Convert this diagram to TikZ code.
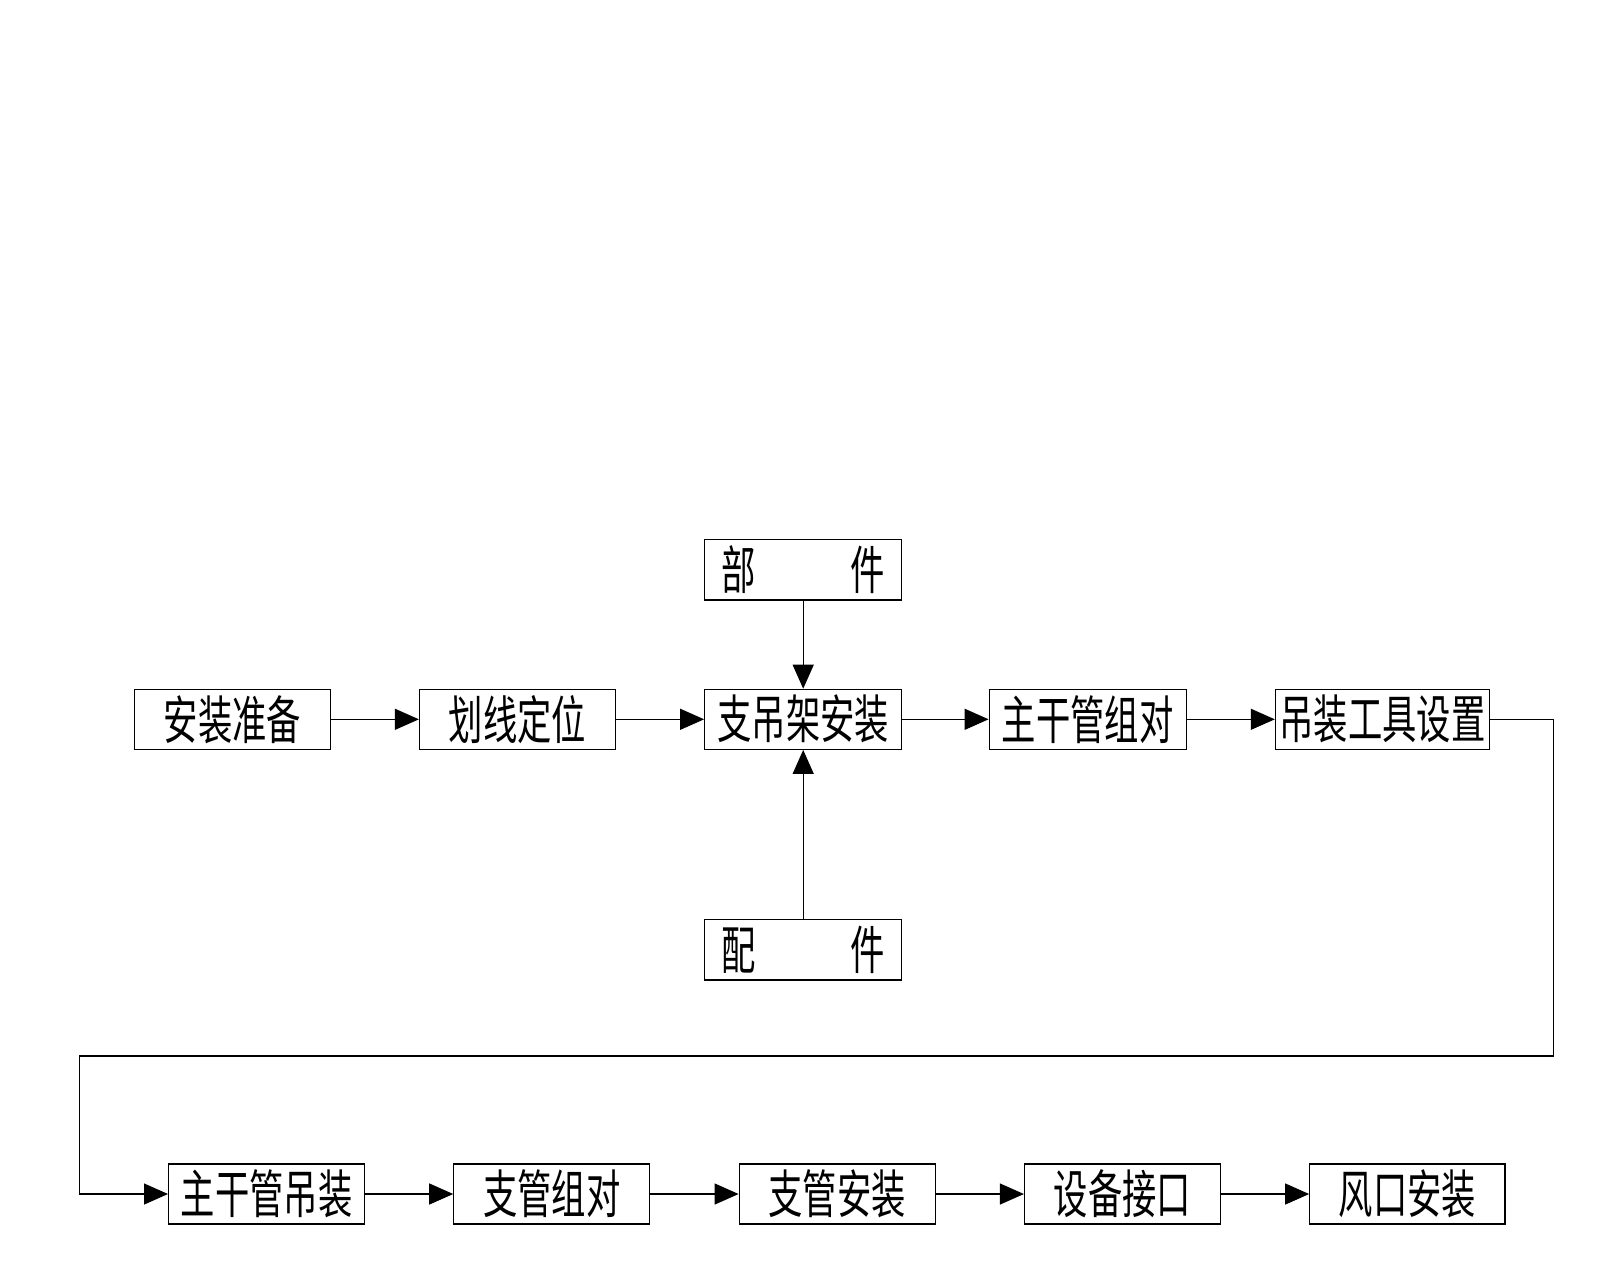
\documentclass[tikz,border=0pt]{standalone}
\usepackage{fontspec}
\newfontfamily\cjkfont[FakeStretch=0.66]{Noto Sans CJK SC}
\usetikzlibrary{arrows.meta}
\tikzset{
  box/.style={draw, line width=1.2pt, rectangle, inner sep=0pt, minimum width=196pt, minimum height=60pt,
    font=\cjkfont\fontsize{52}{52}\selectfont},
  flow/.style={draw, line width=1.2pt, -{Triangle[length=24pt,width=21pt]}},
  link/.style={draw, line width=1.2pt}
}
\begin{document}
\begin{tikzpicture}[x=1pt,y=-1pt]
\useasboundingbox (0,0) rectangle (1600,1280);
% top row
\node[box] (a1) at (232.4,719.3) {安装准备};
\node[box] (a2) at (517.5,719.3) {划线定位};
\node[box, minimum width=197pt] (a3) at (803.2,719.3) {支吊架安装};
\node[box, minimum width=197pt] (a4) at (1087.7,719.3) {主干管组对};
\node[box, minimum width=214pt] (a5) at (1382.4,719.3) {吊装工具设置};
% side inputs
\node[box, minimum width=197pt, minimum height=60.7pt] (p1) at (803.2,569.7) {部\hspace{95pt}件};
\node[box, minimum width=197pt, minimum height=60.7pt] (p2) at (803.2,949.7) {配\hspace{95pt}件};
% bottom row
\node[box] (b1) at (266.6,1194) {主干管吊装};
\node[box] (b2) at (551.8,1194) {支管组对};
\node[box] (b3) at (837.2,1194) {支管安装};
\node[box] (b4) at (1122.5,1194) {设备接口};
\node[box, minimum width=195.3pt] (b5) at (1407.4,1194) {风口安装};
% corners of the return line
\coordinate (r) at (1553.3,1056);
\coordinate (l) at (79.3,1056);
% connectors
\draw[flow] (a1) -- (a2);
\draw[flow] (a2) -- (a3);
\draw[flow] (a3) -- (a4);
\draw[flow] (a4) -- (a5);
\draw[flow] (p1) -- (a3);
\draw[flow] (p2) -- (a3);
\draw[flow] (a5.east) -| (r) -- (l) |- (b1.west);
\draw[flow] (b1) -- (b2);
\draw[flow] (b2) -- (b3);
\draw[flow] (b3) -- (b4);
\draw[flow] (b4) -- (b5);
\end{tikzpicture}
\end{document}
